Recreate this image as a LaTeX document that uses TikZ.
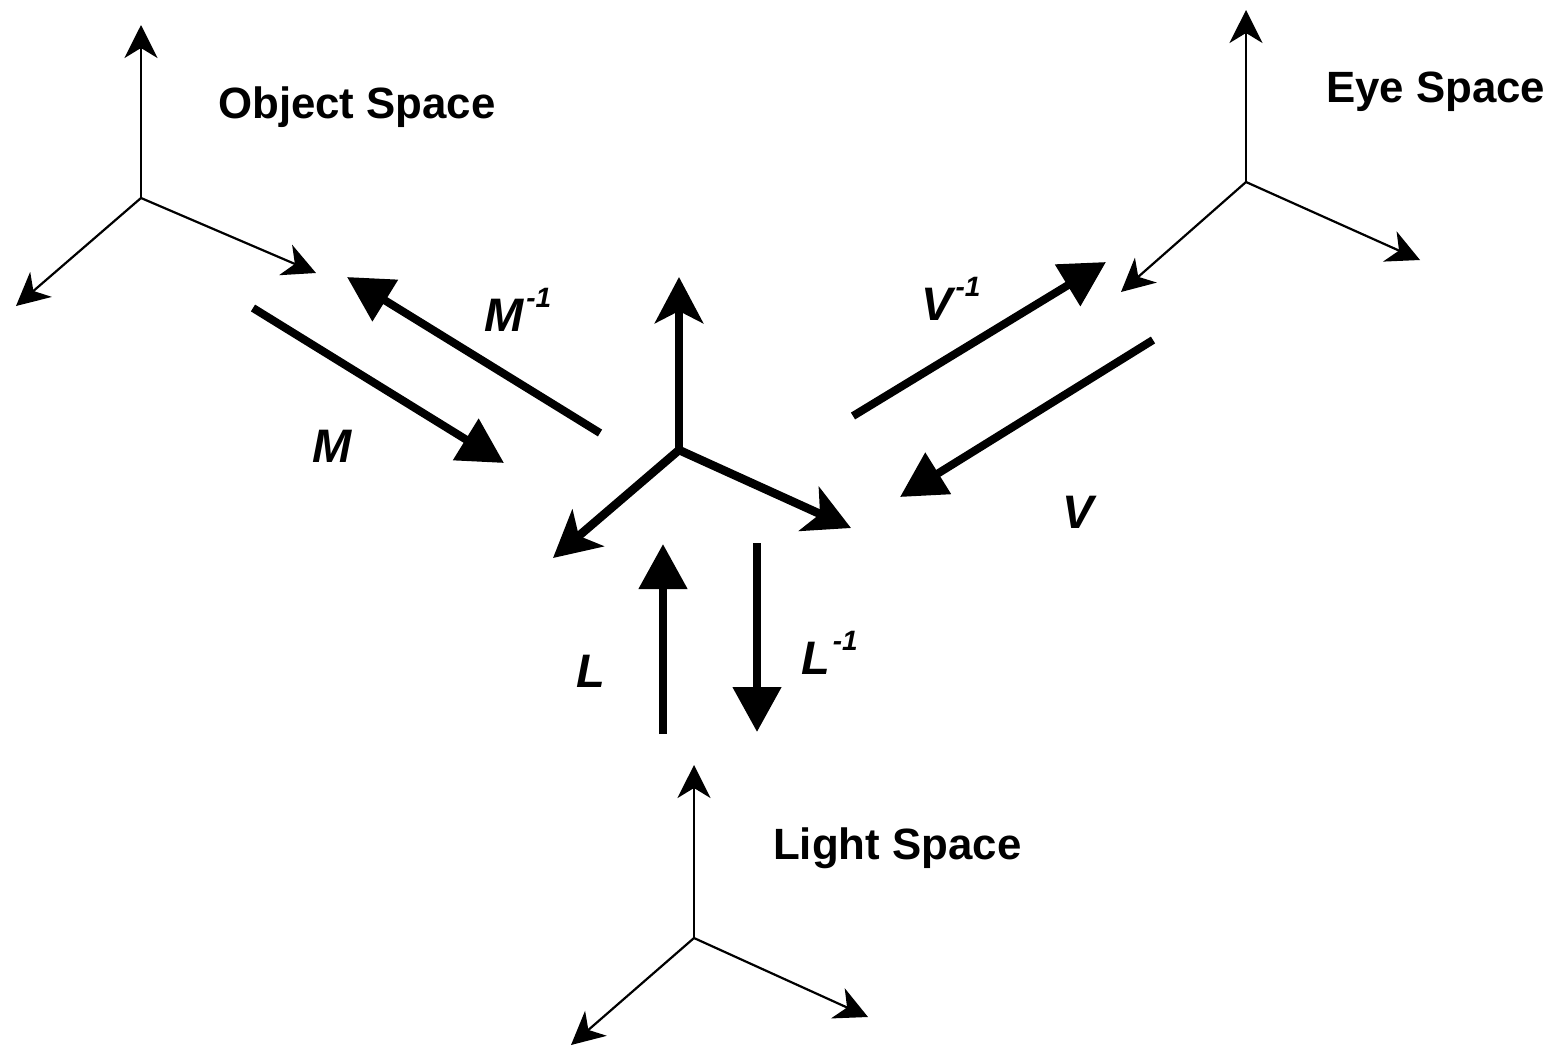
\documentclass[tikz,border=0pt]{standalone}
\usepackage{fontspec}
\setmainfont{Liberation Sans}
\usetikzlibrary{arrows.meta}
\tikzset{
  thinaxis/.style={line width=2.2pt,-{Stealth[length=33pt,width=33pt,inset=10pt]}},
  boldaxis/.style={line width=8.5pt,-{Stealth[length=46pt,width=48pt,inset=12pt]}},
  xform/.style={line width=8pt,-{Triangle[length=45pt,width=47pt]}},
  spacelbl/.style={inner sep=0pt,anchor=base west,font=\fontsize{43.8}{48}\selectfont\bfseries},
  mathlbl/.style={inner sep=0pt,anchor=base west,font=\fontsize{47}{52}\selectfont\bfseries\itshape}
}
\newcommand{\invsup}{\kern3pt\raisebox{24pt}{\fontsize{28}{28}\selectfont -1}}
\begin{document}
\begin{tikzpicture}[x=1pt,y=-1pt]
\useasboundingbox (0,0) rectangle (1549,1047);
% object frame
\coordinate (oo) at (141,198);
\coordinate (oy) at (141,25);
\coordinate (ox) at (16,306);
\coordinate (oz) at (316,273);
\draw[thinaxis] (oo) -- (oy);
\draw[thinaxis] (oo) -- (ox);
\draw[thinaxis] (oo) -- (oz);
% eye frame
\coordinate (eo) at (1246,182);
\coordinate (ey) at (1246,10);
\coordinate (ex) at (1121,292);
\coordinate (ez) at (1420,260);
\draw[thinaxis] (eo) -- (ey);
\draw[thinaxis] (eo) -- (ex);
\draw[thinaxis] (eo) -- (ez);
% light frame
\coordinate (lo) at (694,938);
\coordinate (ly) at (694,765);
\coordinate (lx) at (571,1045);
\coordinate (lz) at (868,1017);
\draw[thinaxis] (lo) -- (ly);
\draw[thinaxis] (lo) -- (lx);
\draw[thinaxis] (lo) -- (lz);
% world (center) frame
\coordinate (wo) at (679,450);
\coordinate (wy) at (679,277);
\coordinate (wx) at (553,558);
\coordinate (wz) at (851,528);
\draw[boldaxis] (wo) -- (wy);
\draw[boldaxis] (wo) -- (wx);
\draw[boldaxis] (wo) -- (wz);
% transform arrows
\coordinate (ms) at (253,308);
\coordinate (me) at (504,463);
\coordinate (mis) at (600,433);
\coordinate (mie) at (347,277);
\coordinate (vis) at (853,416);
\coordinate (vie) at (1106,262);
\coordinate (vs) at (1153,340);
\coordinate (ve) at (900,497);
\coordinate (ls) at (663,734);
\coordinate (le) at (663,544);
\coordinate (lis) at (757,543);
\coordinate (lie) at (757,732);
\draw[xform] (ms) -- (me);
\draw[xform] (mis) -- (mie);
\draw[xform] (vis) -- (vie);
\draw[xform] (vs) -- (ve);
\draw[xform] (ls) -- (le);
\draw[xform] (lis) -- (lie);
% labels
\node[spacelbl] (tobj) at (218,118) {Object Space};
\node[spacelbl] (teye) at (1326,102) {Eye Space};
\node[spacelbl] (tlight) at (773,859) {Light Space};
\node[mathlbl] (tm) at (312,462) {M};
\node[mathlbl] (tmi) at (484,331) {M\invsup};
\node[mathlbl] (tvi) at (921,320) {V\invsup};
\node[mathlbl] (tv) at (1062,528) {V};
\node[mathlbl] (tl) at (576,687) {L};
\node[mathlbl] (tli) at (801,674) {L\invsup};
\end{tikzpicture}
\end{document}
